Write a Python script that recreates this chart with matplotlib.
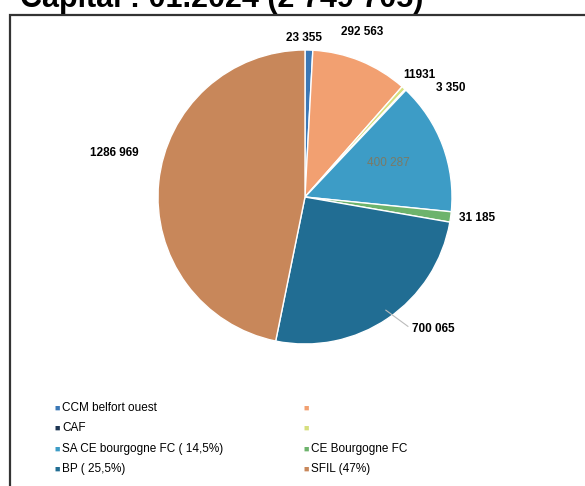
import matplotlib.pyplot as plt
from matplotlib.patches import Rectangle
import numpy as np

plt.rcParams['font.family'] = ['Liberation Sans', 'DejaVu Sans']

# slices, clockwise from the top
values = [23355, 292563, 11931, 3350, 400287, 31185, 700065, 1286969]
value_labels = ["23 355", "292 563", "11931", "3 350", "400 287", "31 185", "700 065", "1286 969"]
colors = ["#3b78b6", "#f2a071", "#d6df7e", "#1d3552", "#3d9cc6", "#6db36c", "#216d93", "#c8875a"]

# legend entries (two columns)
legend_names = ["CCM belfort ouest", "CAF", "SA CE bourgogne FC ( 14,5%)", "BP ( 25,5%)",
                "", "", "CE Bourgogne FC", "SFIL (47%)"]
legend_slices = [0, 3, 4, 6, 1, 2, 5, 7]

W, H = 585, 486
fig = plt.figure(figsize=(W / 100, H / 100), dpi=100)

# frame around the chart
fig.patches.append(Rectangle((10 / W, -0.1), 1.0, (H - 15) / H + 0.1, transform=fig.transFigure,
                             fill=False, edgecolor="#333333", linewidth=1.6))

# title, mostly cut off at the top of the scan
fig.text(20 / W, 1 - 7 / H, "Capital : 01.2024 (2 749 705)", fontsize=22, fontweight="bold",
         va="baseline", ha="left")

cx, cy, r = 305, 197, 147
ax = fig.add_axes([(cx - r) / W, (H - cy - r) / H, 2 * r / W, 2 * r / H])
wedges, _ = ax.pie(values, colors=colors, startangle=90, counterclock=False,
                   wedgeprops=dict(edgecolor="white", linewidth=1.0))
ax.set_xlim(-1, 1)
ax.set_ylim(-1, 1)
ax.axis("off")

# label positions (axes data units) for each slice
label_pos = [(-0.01, 1.08), (0.39, 1.12), (0.78, 0.83), (0.99, 0.74), (0.57, 0.23),
             (1.17, -0.14), (0.87, -0.90), (-1.30, 0.30)]
for i, (txt, pos) in enumerate(zip(value_labels, label_pos)):
    color = "#7a7a66" if i == 4 else "black"
    ax.text(pos[0], pos[1], txt, fontsize=8.5, ha="center", va="center", color=color,
            fontweight="bold" if i != 4 else "normal", clip_on=False)

# faint leader line for 700 065
ang = np.deg2rad(90 - (wedges[6].theta1 + wedges[6].theta2) / 2)
ax.plot([0.55, 0.70], [-0.77, -0.88], color="#bbbbbb", linewidth=0.8, clip_on=False)

# legend
rows_y = [408, 428, 449, 469]
cols_x = [57, 306]
for k, (name, si) in enumerate(zip(legend_names, legend_slices)):
    col, row = divmod(k, 4)
    x, y = cols_x[col], rows_y[row]
    fig.text(x / W, 1 - y / H, "\u25a0", fontsize=6.5, color=colors[si], va="center", ha="center")
    fig.text((x + 5) / W, 1 - y / H, name, fontsize=8.5, va="center", ha="left")

fig.savefig("out.png", dpi=100)
